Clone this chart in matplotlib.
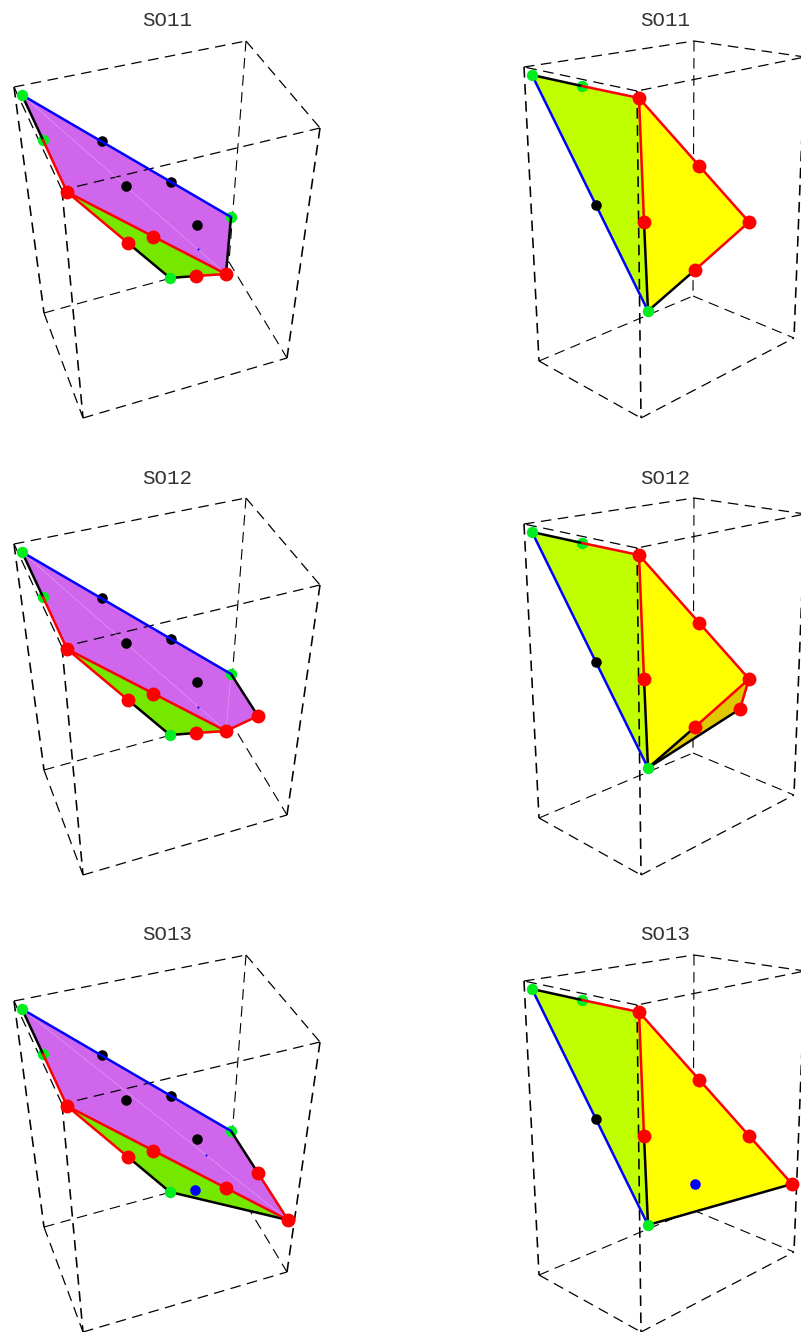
import matplotlib
matplotlib.use('Agg')
import matplotlib.pyplot as plt

W, H = 801, 1332
titles = ['SO11', 'SO12', 'SO13']
row_top = [0, 457, 914]
row_height = [457, 457, 418]

purple = '#d066ec'
green_fill = '#76e800'
lime_fill = '#bfff00'
yellow_fill = '#ffff00'
dark_yellow = '#e0c800'

# box corners, order: back-left, back, right, front top, then the bottom ones
box_left = {'A': (14, 87), 'B': (246, 41), 'C': (320, 128), 'D': (62, 190),
            'E': (44, 313), 'H': (229, 262), 'G': (287, 358), 'F': (83, 418)}
box_right = {'A': (524, 67), 'B': (694, 41), 'C': (805, 57), 'D': (637, 91),
             'E': (539, 361), 'H': (693, 296), 'G': (794, 338), 'F': (641, 418)}
back_edges = ['EH', 'BH', 'HG']
front_edges = ['AB', 'BC', 'CD', 'DA', 'EF', 'FG']
upright_edges = ['AE', 'DF', 'CG']

# left column
left_polys = [
    [([(67, 192), (128, 243), (170, 278), (196, 276), (226, 274)], green_fill),
     ([(22, 95), (231, 217), (226, 274), (67, 192)], purple)],
    [([(67, 192), (128, 243), (170, 278), (196, 276), (226, 274)], green_fill),
     ([(22, 95), (231, 217), (258, 259), (226, 274), (67, 192)], purple)],
    [([(67, 192), (128, 243), (170, 278), (288, 306)], green_fill),
     ([(22, 95), (231, 217), (258, 259), (288, 306), (67, 192)], purple)],
]
left_faint = [
    [[(22, 95), (226, 274)]],
    [[(22, 95), (226, 274)], [(231, 217), (226, 274)]],
    [[(22, 95), (288, 306)]],
]
left_black = [
    [[(22, 95), (43, 140)], [(128, 243), (170, 278), (196, 276)], [(231, 217), (226, 274)]],
    [[(22, 95), (43, 140)], [(128, 243), (170, 278), (196, 276)], [(231, 217), (258, 259)]],
    [[(22, 95), (43, 140)], [(128, 243), (170, 278), (288, 306)], [(231, 217), (258, 259)]],
]
left_red = [
    [[(43, 140), (67, 192), (128, 243)], [(67, 192), (226, 274)], [(196, 276), (226, 274)]],
    [[(43, 140), (67, 192), (128, 243)], [(67, 192), (226, 274)], [(196, 276), (226, 274), (258, 259)]],
    [[(43, 140), (67, 192), (128, 243)], [(67, 192), (288, 306)], [(258, 259), (288, 306)]],
]
left_blue = [[(22, 95), (231, 217)]]
left_green_under = [(43, 140), (231, 217)]
left_green_over = [(22, 95), (170, 278)]
left_black_pts = [(102, 141), (126, 186), (171, 182), (197, 225)]
left_red_pts = [
    [(67, 192), (128, 243), (153, 237), (196, 276), (226, 274)],
    [(67, 192), (128, 243), (153, 237), (196, 276), (226, 274), (258, 259)],
    [(67, 192), (128, 243), (153, 237), (226, 274), (258, 259), (288, 306)],
]
left_blue_pts = [[], [], [(195, 276)]]
left_tiny_blue = [(198, 249), (198, 250), (206, 241)]

# right column
right_lime = [(532, 75), (582, 86), (639, 98), (644, 222), (648, 311)]
right_polys = [
    [([(639, 98), (749, 222), (695, 270), (648, 311), (644, 222)], yellow_fill)],
    [([(749, 222), (740, 252), (648, 311), (695, 270)], dark_yellow),
     ([(639, 98), (749, 222), (695, 270), (648, 311), (644, 222)], yellow_fill)],
    [([(639, 98), (792, 270), (648, 311), (644, 222)], yellow_fill)],
]
right_black_common = [[(532, 75), (582, 86)], [(644, 222), (648, 311)]]
right_black = [
    [[(695, 270), (648, 311)]],
    [[(695, 270), (648, 311)], [(740, 252), (648, 311)]],
    [[(792, 270), (648, 311)]],
]
right_red_common = [[(582, 86), (639, 98), (644, 222)]]
right_red = [
    [[(639, 98), (749, 222), (695, 270)]],
    [[(639, 98), (749, 222), (695, 270)], [(749, 222), (740, 252)]],
    [[(639, 98), (792, 270)]],
]
right_blue = [[(532, 75), (648, 311)]]
right_green_under = [(582, 86)]
right_green_over = [(532, 75), (648, 311)]
right_black_pts = [(596, 205)]
right_red_pts = [
    [(639, 98), (699, 166), (749, 222), (695, 270), (644, 222)],
    [(639, 98), (699, 166), (749, 222), (695, 270), (740, 252), (644, 222)],
    [(639, 98), (699, 166), (749, 222), (792, 270), (644, 222)],
]
right_blue_pts = [[], [], [(695, 270)]]

plt.rcParams['lines.scale_dashes'] = False
plt.rcParams['font.family'] = ['Liberation Mono', 'DejaVu Sans']

fig = plt.figure(figsize=(W / 100, H / 100), dpi=100)


def draw_edges(ax, box, edges, lw, z):
    for e in edges:
        p, q = box[e[0]], box[e[1]]
        ax.plot([p[0], q[0]], [p[1], q[1]], color='black', lw=lw,
                linestyle=(0, (7.6, 4.7)), dash_capstyle='butt', zorder=z)


def draw_lines(ax, lines, color, lw, z):
    for line in lines:
        ax.plot([p[0] for p in line], [p[1] for p in line], color=color, lw=lw,
                solid_capstyle='round', solid_joinstyle='round', zorder=z)


def draw_pts(ax, pts, color, size, z):
    if pts:
        ax.plot([p[0] for p in pts], [p[1] for p in pts], 'o', color=color,
                ms=size, mew=0, zorder=z)


def make_axes(x0, w, row):
    ax = fig.add_axes([x0 / W, 1 - (row_top[row] + row_height[row]) / H, w / W, row_height[row] / H])
    ax.set_xlim(x0, x0 + w)
    ax.set_ylim(row_height[row], 0)
    ax.axis('off')
    return ax


for i, title in enumerate(titles):
    # left panel
    ax = make_axes(0, 400, i)
    ax.text(167, 21, title, ha='center', va='center', fontsize=15, color='#333333')
    draw_edges(ax, box_left, back_edges, 0.8, 1)
    for pts, col in left_polys[i]:
        ax.fill([p[0] for p in pts], [p[1] for p in pts], color=col, lw=0, zorder=2)
    draw_edges(ax, box_left, front_edges, 0.9, 3)
    draw_edges(ax, box_left, upright_edges, 1.15, 3)
    draw_lines(ax, left_faint[i], '#e0a8f2', 0.4, 3)
    draw_pts(ax, left_black_pts, 'black', 7.6, 4)
    draw_pts(ax, left_green_under, '#00ee20', 8.2, 4)
    draw_pts(ax, left_blue_pts[i], '#0000ff', 7.6, 4)
    draw_pts(ax, [left_tiny_blue[i]], '#0000ff', 1.5, 4)
    draw_lines(ax, left_black[i], 'black', 1.8, 5)
    draw_lines(ax, left_blue, '#0000ff', 1.8, 5)
    draw_pts(ax, left_green_over, '#00ee20', 8.2, 5.5)
    draw_lines(ax, left_red[i], '#ff0000', 1.8, 6)
    draw_pts(ax, left_red_pts[i], '#ff0000', 10, 7)

    # right panel
    ax = make_axes(400, 401, i)
    ax.text(665, 21, title, ha='center', va='center', fontsize=15, color='#333333')
    draw_edges(ax, box_right, back_edges, 0.8, 1)
    ax.fill([p[0] for p in right_lime], [p[1] for p in right_lime], color=lime_fill, lw=0, zorder=2)
    for pts, col in right_polys[i]:
        ax.fill([p[0] for p in pts], [p[1] for p in pts], color=col, lw=0, zorder=2)
    draw_edges(ax, box_right, front_edges, 0.9, 3)
    draw_edges(ax, box_right, upright_edges, 1.15, 3)
    draw_pts(ax, right_green_under, '#00ee20', 8.2, 4)
    draw_pts(ax, right_blue_pts[i], '#0000ff', 7.6, 4)
    draw_lines(ax, right_black_common + right_black[i], 'black', 1.8, 5)
    draw_lines(ax, right_blue, '#0000ff', 1.8, 5)
    draw_pts(ax, right_black_pts, 'black', 7.6, 5.5)
    draw_pts(ax, right_green_over, '#00ee20', 8.2, 5.5)
    draw_lines(ax, right_red_common + right_red[i], '#ff0000', 1.8, 6)
    draw_pts(ax, right_red_pts[i], '#ff0000', 10, 7)

fig.savefig('out.png', dpi=100)
